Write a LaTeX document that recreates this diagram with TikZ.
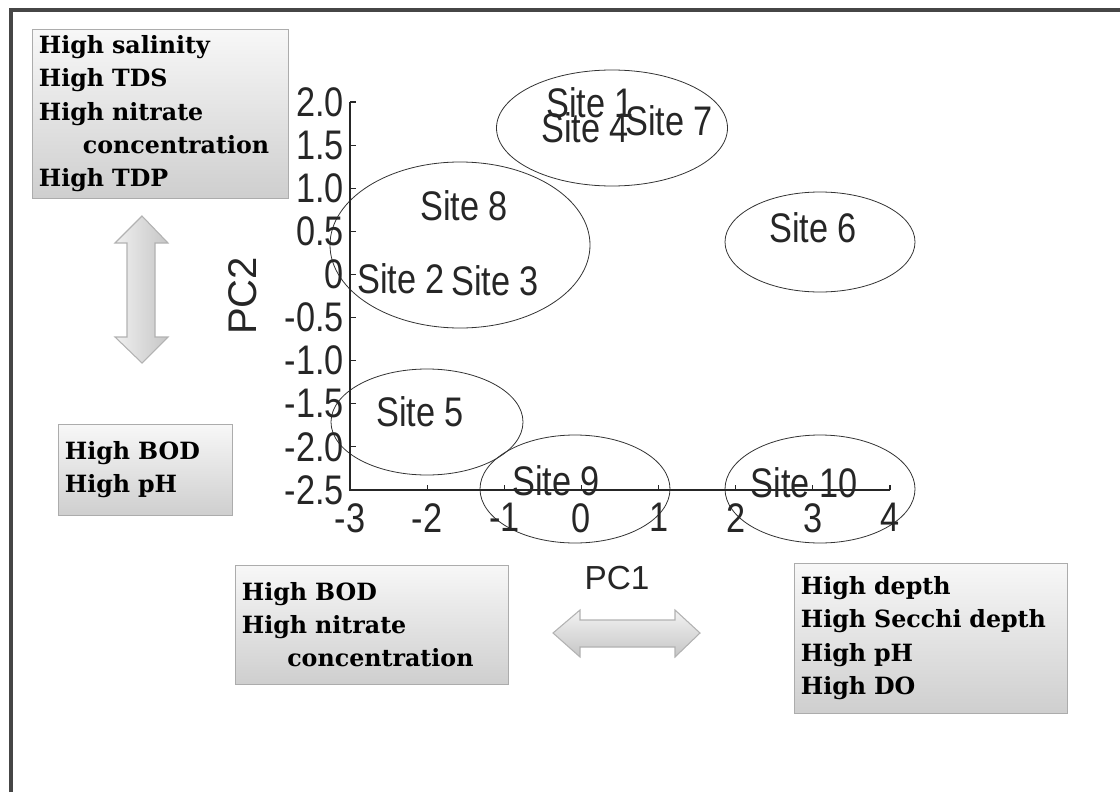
\documentclass[tikz,border=0pt]{standalone}
\usepackage{fontspec}
\usepackage{graphicx}
\setmainfont{DejaVu Serif}
\newfontfamily\arialf{Liberation Sans}
\usetikzlibrary{shapes.geometric,calc}
\newcommand\cmpr[1]{\scalebox{0.83}[1]{#1}}
\tikzset{
  gbox/.style={draw=gray!65, top color=gray!6, bottom color=gray!38, align=left, anchor=north west,
    inner xsep=5pt, inner ysep=0pt, font=\bfseries\fontsize{17.8}{25}\selectfont},
  sitetxt/.style={inner sep=0pt, font=\arialf\fontsize{31}{31}\selectfont, text=black!85},
  ticklbl/.style={inner sep=0pt, font=\arialf\fontsize{31}{31}\selectfont, text=black!85},
  axtitle/.style={inner sep=0pt, font=\arialf\fontsize{25}{25}\selectfont, text=black!85},
  siteell/.style={ellipse, draw=black!80, line width=0.6pt, inner sep=0pt},
  bigarrow/.style={draw=gray!60, line width=0.8pt},
}
\begin{document}
\begin{tikzpicture}[x=0.75pt,y=-0.75pt]
\useasboundingbox (0,0) rectangle (1120,792);
% frame
\coordinate (fbl) at (11,792);
\coordinate (ftl) at (11,10);
\coordinate (ftr) at (1120,10);
\draw[line width=2.5pt, gray!55!black] (fbl) -- (ftl) -- (ftr);

% ellipses
\node[siteell, minimum width=173.25pt, minimum height=87pt] (e147) at (612,128) {};
\node[siteell, minimum width=195pt, minimum height=124.5pt] (e823) at (460,245) {};
\node[siteell, minimum width=144pt, minimum height=79.5pt] (e5) at (427,422) {};
\node[siteell, minimum width=142.5pt, minimum height=81pt] (e9) at (575,489) {};
\node[siteell, minimum width=142.5pt, minimum height=81pt] (e10) at (820,489) {};
\node[siteell, minimum width=142.5pt, minimum height=75pt] (e6) at (820,242) {};

% site labels
\node[sitetxt] (s1) at (590,103) {\cmpr{Site 1}};
\node[sitetxt] (s4) at (585,128) {\cmpr{Site 4}};
\node[sitetxt] (s7) at (669,121) {\cmpr{Site 7}};
\node[sitetxt] (s8) at (464,206) {\cmpr{Site 8}};
\node[sitetxt] (s2) at (401,279) {\cmpr{Site 2}};
\node[sitetxt] (s3) at (495,281) {\cmpr{Site 3}};
\node[sitetxt] (s5) at (420,412) {\cmpr{Site 5}};
\node[sitetxt] (s9) at (556,481) {\cmpr{Site 9}};
\node[sitetxt] (s10) at (804,483) {\cmpr{Site 10}};
\node[sitetxt] (s6) at (813,228) {\cmpr{Site 6}};

% axes
\coordinate (O) at (350,490);
\coordinate (ytop) at (350,102);
\coordinate (xend) at (890,490);
\draw[line width=1.6pt, black!85] (ytop) -- (O) -- (xend);
\foreach \v [count=\i from 0] in {2.0,1.5,1.0,0.5,0,-0.5,-1.0,-1.5,-2.0,-2.5}{
  \coordinate (yt\i) at (350,{102+43.1*\i});
  \draw[line width=0.8pt, black!85] (yt\i) -- ++(6,0);
  \node[ticklbl, anchor=east] (yl\i) at ($(yt\i)+(-6,0)$) {\cmpr{\v}};
}
\foreach \v [count=\i from 0] in {-3,-2,-1,0,1,2,3,4}{
  \coordinate (xt\i) at ({350+77.14*\i},490);
  \draw[line width=0.8pt, black!85] (xt\i) -- ++(0,-5);
  \node[ticklbl, anchor=north] (xl\i) at ($(xt\i)+(0,13)$) {\cmpr{\v}};
}
\node[axtitle] (pc1) at (617,578) {PC1};
\node[axtitle, rotate=90, font=\arialf\fontsize{30}{30}\selectfont] (pc2) at (243,296) {PC2};

% boxes
\node[gbox, text width=182pt, minimum height=126.75pt] (b1) at (32,29)
  {High salinity\\High TDS\\High nitrate\\\hspace*{33pt}concentration\\High TDP};
\node[gbox, text width=120.5pt, minimum height=68.25pt] (b2) at (58,424)
  {High BOD\\High pH};
\node[gbox, text width=194.75pt, minimum height=89.25pt] (b3) at (235,565)
  {High BOD\\High nitrate\\\hspace*{34pt}concentration};
\node[gbox, text width=194.75pt, minimum height=112.5pt] (b4) at (794,563)
  {High depth\\High Secchi depth\\High pH\\High DO};

% double arrows
\path[bigarrow, left color=gray!12, right color=gray!45]
  (142,216) -- (168,243) -- (155,243) -- (155,337) -- (168,337) -- (142,363)
  -- (115,337) -- (127,337) -- (127,243) -- (115,243) -- cycle;
\path[bigarrow, top color=gray!10, bottom color=gray!45]
  (553,633) -- (580,610) -- (580,620) -- (675,620) -- (675,610) -- (700,633)
  -- (675,657) -- (675,647) -- (580,647) -- (580,657) -- cycle;
\end{tikzpicture}
\end{document}
